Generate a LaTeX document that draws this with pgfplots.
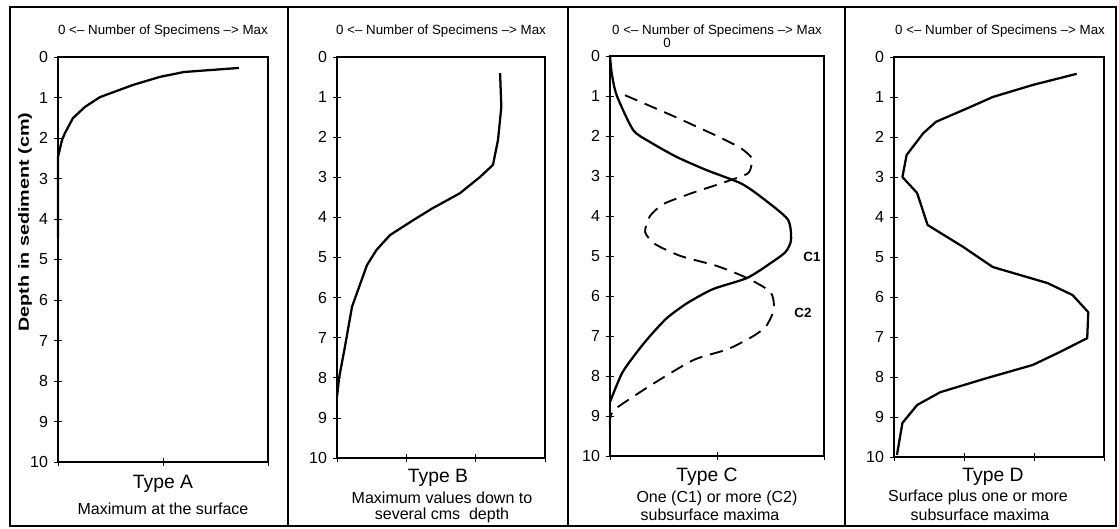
\documentclass[border=0pt]{standalone}
\usepackage{pgfplots}
\pgfplotsset{compat=1.18}
\usepackage{fontspec}
\setmainfont{Liberation Sans}
\begin{document}
\begin{tikzpicture}
\useasboundingbox (0pt,0pt) rectangle (839.25pt,-396pt);
\pgfplotsset{
  panel/.style={
    anchor=north west, scale only axis,
    xmin=0, xmax=1, ymin=0, ymax=10, y dir=reverse,
    ytick={0,1,...,10}, xticklabels={},
    xtick pos=left, ytick pos=left,
    tick align=center, major tick length=6pt,
    axis line style={line width=1.1pt}, every tick/.style={black, line width=0.6pt},
    /pgf/number format/assume math mode=true,
    yticklabel style={font=\fontsize{12}{14}\selectfont, xshift=-1pt},
    clip=false,
  },
  curve/.style={black, line width=1.7pt, line join=round},
}
% Panel A
\begin{axis}[panel, at={(43.5pt,-42.75pt)}, width=157.5pt, height=303.75pt, xtick={0,0.5,1}]
\addplot[curve] coordinates {(0.862,0.27)(0.60,0.37)(0.486,0.49)(0.357,0.69)(0.2,0.99)(0.129,1.23)(0.071,1.51)(0.033,1.88)(0.019,2.05)(0,2.47)(0,4.47)};
\end{axis}
% Panel B
\begin{axis}[panel, at={(252.75pt,-42.75pt)}, width=156pt, height=300.75pt, xtick={0,0.3333,0.6667,1}]
\addplot[curve] coordinates {(0.784,0.40)(0.79,1.25)(0.774,2.07)(0.75,2.69)(0.688,2.99)(0.59,3.4)(0.46,3.77)(0.366,4.07)(0.255,4.44)(0.19,4.81)(0.144,5.19)(0.072,6.23)(0.038,7.23)(0.01,8.0)(0,8.48)};
\end{axis}
% Panel C
\begin{axis}[panel, at={(457.5pt,-42pt)}, width=160.5pt, height=300pt, xtick={0,0.5,1}]
\addplot[curve, smooth, tension=0.4] coordinates {(0,0)(0.008,0.43)(0.031,0.98)(0.108,1.85)(0.187,2.15)(0.31,2.52)(0.45,2.85)(0.61,3.18)(0.70,3.5)(0.83,4.08)(0.846,4.6)(0.82,4.9)(0.75,5.18)(0.64,5.55)(0.48,5.83)(0.36,6.18)(0.266,6.55)(0.187,7.0)(0.126,7.4)(0.056,7.93)(0,8.65)};
\addplot[curve, smooth, tension=0.4, line width=1.4pt, dash pattern=on 10pt off 6pt] coordinates {(0.07,0.98)(0.295,1.5)(0.50,2.0)(0.61,2.3)(0.663,2.55)(0.66,2.75)(0.64,2.95)(0.51,3.2)(0.37,3.45)(0.25,3.7)(0.187,4.0)(0.164,4.4)(0.21,4.7)(0.33,5.0)(0.50,5.25)(0.64,5.55)(0.75,5.9)(0.766,6.33)(0.73,6.75)(0.67,7.0)(0.55,7.33)(0.39,7.6)(0.2,8.2)(0.023,8.83)(0,9.1)(0,9.4)};
\end{axis}
% Panel D
\begin{axis}[panel, at={(670.5pt,-42.75pt)}, width=157.5pt, height=300pt, xtick={0,0.3333,0.6667,1}]
\addplot[curve] coordinates {(0.87,0.42)(0.66,0.70)(0.47,1.0)(0.35,1.28)(0.20,1.62)(0.14,1.9)(0.06,2.45)(0.04,3.0)(0.11,3.4)(0.16,4.2)(0.33,4.75)(0.47,5.25)(0.73,5.65)(0.85,5.95)(0.925,6.38)(0.92,7.03)(0.78,7.4)(0.66,7.7)(0.44,8.03)(0.22,8.38)(0.11,8.7)(0.04,9.15)(0.014,9.95)};
\end{axis}
\begin{scope}[x=0.75pt, y=-0.75pt]
\draw[line width=1.4pt] (10,7) rectangle (1116,526);
\draw[line width=2.2pt] (288,7) -- (288,526);
\draw[line width=2.2pt] (568,7) -- (568,526);
\draw[line width=2.2pt] (845,7) -- (845,526);
\tikzset{spec/.style={font=\fontsize{10}{11}\selectfont}}
\node[spec] at (163,31) {0 <-- Number of Specimens --> Max};
\node[spec] at (441,31) {0 <-- Number of Specimens --> Max};
\node[spec] at (717,31) {0 <-- Number of Specimens --> Max};
\node[spec] at (1000,31) {0 <-- Number of Specimens --> Max};
\node[spec] at (667,43) {0};
\node[font=\bfseries\fontsize{11}{13}\selectfont, rotate=90] at (25,222) {\scalebox{1.35}[1]{Depth in sediment (cm)}};
\node[font=\bfseries\fontsize{10}{12}\selectfont] at (812,257) {C1};
\node[font=\bfseries\fontsize{10}{12}\selectfont] at (803,313) {C2};
\tikzset{typ/.style={font=\fontsize{14.5}{16}\selectfont}, sub/.style={font=\fontsize{12}{13}\selectfont, align=center}}
\node[typ] at (163,484) {Type A};
\node[sub] at (163,509) {Maximum at the surface};
\node[typ] at (438,478) {Type B};
\node[sub] at (442,498) {Maximum values down to};
\node[sub] at (442,515) {several cms\ \ depth};
\node[typ] at (707,477) {Type C};
\node[sub] at (717,498) {One (C1) or more (C2)};
\node[sub] at (710,515) {subsurface maxima};
\node[typ] at (993,477) {Type D};
\node[sub] at (978,497) {Surface plus one or more};
\node[sub] at (980,515) {subsurface maxima};
\end{scope}
\end{tikzpicture}
\end{document}
